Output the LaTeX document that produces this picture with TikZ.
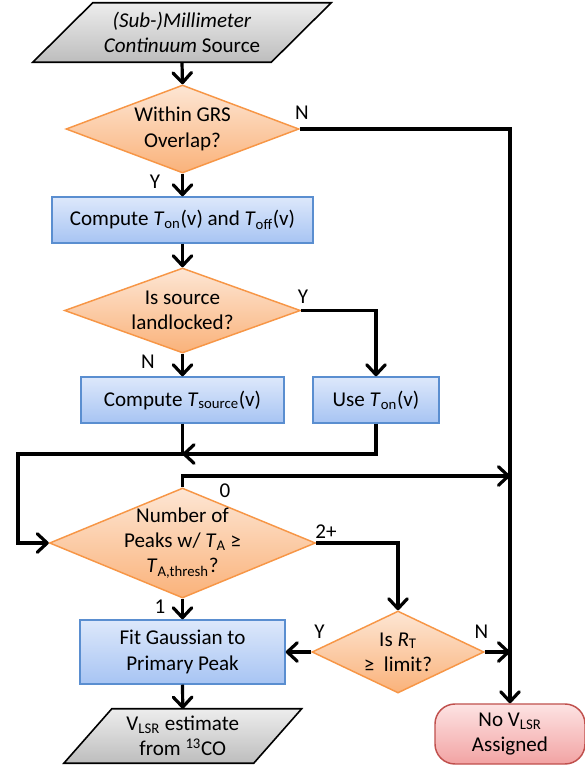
\documentclass[tikz,border=0pt]{standalone}
\usepackage{fontspec}
\setmainfont{Carlito}
\usetikzlibrary{shapes.geometric,arrows.meta,backgrounds}
\definecolor{otop}{HTML}{FDE6D4}
\definecolor{obot}{HTML}{FAB27A}
\definecolor{oline}{HTML}{F79646}
\definecolor{btop}{HTML}{DDE8FB}
\definecolor{bbot}{HTML}{A7C4F3}
\definecolor{bline}{HTML}{5A8ED0}
\definecolor{gtop}{HTML}{EDEDED}
\definecolor{gbot}{HTML}{BDBDBD}
\definecolor{rtop}{HTML}{FDE3E3}
\definecolor{rbot}{HTML}{F2A3A3}
\definecolor{rline}{HTML}{C0504D}
\begin{document}
\begin{tikzpicture}[x=0.75pt,y=-0.75pt,
  font=\fontsize{15.8}{19}\selectfont,
  conn/.style={line width=2.4pt},
  arr/.style={conn,-{Straight Barb[length=7.5pt,width=14pt,round]}},
  dec/.style={diamond,draw=oline,line width=1.1pt,top color=otop,bottom color=obot,inner sep=0pt},
  dtext/.style={align=center},
  proc/.style={rectangle,draw=bline,line width=1.1pt,top color=btop,bottom color=bbot,align=center},
  iotext/.style={rectangle,inner sep=0pt,align=center},
  io/.style={draw=black,line width=1.2pt,top color=gtop,bottom color=gbot},
  term/.style={rectangle,rounded corners=15pt,draw=rline,line width=1.1pt,top color=rtop,bottom color=rbot,align=center},
  lab/.style={inner sep=0pt}
]
\useasboundingbox (0,0) rectangle (585,768);

% nodes
\node[iotext, minimum width=178.5pt, minimum height=44.25pt] (src) at (182,32.5)
  {\textit{(Sub-)Millimeter}\\\textit{Continuum} Source};
\node[dec, minimum width=174.75pt, minimum height=66pt,
  label={[dtext]center:{Within GRS\\Overlap?}}] (d1) at (182.5,129) {};
\node[proc, minimum width=195.75pt, minimum height=34.5pt] (b1) at (182.5,220)
  {Compute \textit{T}\textsubscript{on}(v) and \textit{T}\textsubscript{off}(v)};
\node[dec, minimum width=177pt, minimum height=63.75pt,
  label={[dtext]center:{Is source\\landlocked?}}] (d2) at (182.5,310.5) {};
\node[proc, minimum width=152.25pt, minimum height=34.5pt] (b2) at (182.5,400)
  {Compute \textit{T}\textsubscript{source}(v)};
\node[proc, minimum width=94.5pt, minimum height=34.5pt] (b3) at (376,400)
  {Use \textit{T}\textsubscript{on}(v)};
\node[dec, minimum width=199.5pt, minimum height=82.5pt,
  label={[dtext]center:{Number of\\Peaks w/ \textit{T}\textsubscript{A} ≥\\\textit{T}\textsubscript{A,thresh}?}}] (d3) at (182.5,543) {};
\node[dec, minimum width=129pt, minimum height=61.5pt,
  label={[dtext]center:{Is \textit{R}\textsubscript{T}\\≥\ \ limit?}}] (d4) at (398,652) {};
\node[proc, minimum width=153.75pt, minimum height=48pt] (b4) at (182.5,652)
  {Fit Gaussian to\\Primary Peak};
\node[iotext, minimum width=142pt, minimum height=40.5pt] (out) at (182.75,736)
  {V\textsubscript{LSR} estimate\\from \textsuperscript{13}CO};
\node[term, minimum width=112.5pt, minimum height=45pt] (nov) at (510,734)
  {No V\textsubscript{LSR}\\Assigned};

\begin{scope}[on background layer]
  \fill[white] (0,0) rectangle (585,768);
  \path[io] ([xshift=22.5pt]src.north west) -- ([xshift=22.5pt]src.north east)
    -- ([xshift=-22.5pt]src.south east) -- ([xshift=-22.5pt]src.south west) -- cycle;
  \path[io] ([xshift=18pt]out.north west) -- ([xshift=18pt]out.north east)
    -- ([xshift=-18pt]out.south east) -- ([xshift=-18pt]out.south west) -- cycle;
\end{scope}

% coordinates
\coordinate (j1) at (182.5,454);
\coordinate (lft) at (18,454);
\coordinate (z0) at (182.5,476);

% connectors
\draw[arr] (src.south) -- (d1.north);
\draw[arr] (d1.east) -- (d1.east -| nov.north) -- (nov.north);
\draw[arr] (d1.south) -- (b1.north);
\draw[arr] (b1.south) -- (d2.north);
\draw[arr] (d2.south) -- (b2.north);
\draw[arr] (d2.east) -| (b3.north);
\draw[arr] (b3.south) |- (j1);
\draw[arr] (b2.south) -- (j1) -- (lft) |- (d3.west);
\draw[arr] (d3.north) -- (z0) -- (z0 -| nov.north);
\draw[arr] (d3.east) -| (d4.north);
\draw[arr] (d3.south) -- (b4.north);
\draw[arr] (d4.west) -- (b4.east);
\draw[arr] (d4.east) -- (d4.east -| nov.north);
\draw[arr] (b4.south) -- (out.north);

% labels
\node[lab] (l1) at (302,113) {N};
\node[lab] (l2) at (155,182) {Y};
\node[lab] (l3) at (303,297) {Y};
\node[lab] (l4) at (148,362) {N};
\node[lab] (l5) at (225,491) {0};
\node[lab] (l6) at (326,532) {2+};
\node[lab] (l7) at (160,607) {1};
\node[lab] (l8) at (319.5,632) {Y};
\node[lab] (l9) at (481.5,632) {N};
\end{tikzpicture}
\end{document}
